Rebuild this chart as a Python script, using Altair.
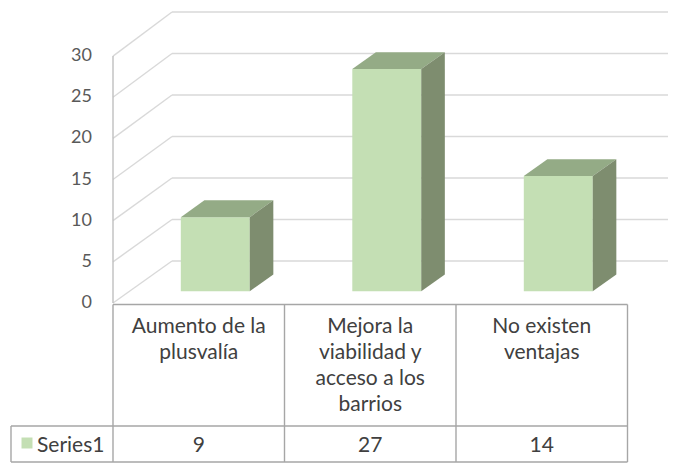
import altair as alt
import pandas as pd

# ---- data ----
categories = [["Aumento de la", "plusvalía"],
              ["Mejora la", "viabilidad y", "acceso a los", "barrios"],
              ["No existen", "ventajas"]]
values = [9, 27, 14]
series_name = "Series1"
y_ticks = [0, 5, 10, 15, 20, 25, 30]

# ---- geometry (in category / value units) ----
CAT_PX = 171.5              # pixels per category
XMAX = 555 / CAT_PX         # plot width expressed in category units
Y_DOMAIN = [-19.93, 35.84]  # value units covering the whole plot height
DEPTH_X = 0.344             # x shift of the back wall (category units)
DEPTH_Y = 5.10              # y shift of the back wall (value units)
BACK_SCALE = 1.0085         # slight perspective growth of the back wall
BAR_FRONT = 0.28            # depth fraction of bar front face
BAR_BACK = 0.68             # depth fraction of bar back face
HALF_W = 0.201              # half width of bar front face

FONT = "Lato"
TEXT_COLOR = "#404040"
GRID = "#D9D9D9"
BORDER = "#A6A6A6"
FRONT = "#C4DFB4"
TOP = "#94AB86"
SIDE = "#7E8D6F"

xs = alt.Scale(domain=[0, XMAX], nice=False, zero=False)
ys = alt.Scale(domain=Y_DOMAIN, nice=False, zero=False)

dxf, dvf = BAR_FRONT * DEPTH_X, BAR_FRONT * DEPTH_Y
dxb, dvb = BAR_BACK * DEPTH_X, BAR_BACK * DEPTH_Y

front_rows, top_rows, side_rows = [], [], []
for i, v in enumerate(values):
    c = i + 0.5
    front_rows.append(dict(bar=i, x=c - HALF_W + dxf, x2=c + HALF_W + dxf, y=dvf, y2=v + dvf))
    top_rows += [
        dict(bar=i, x=c - HALF_W + dxf, y=v + dvf, y2=v + dvf),
        dict(bar=i, x=c - HALF_W + dxb, y=v + dvb, y2=v + dvf),
        dict(bar=i, x=c + HALF_W + dxf, y=v + dvb, y2=v + dvf),
        dict(bar=i, x=c + HALF_W + dxb, y=v + dvb, y2=v + dvb),
    ]
    side_rows += [
        dict(bar=i, x=c + HALF_W + dxf, y=dvf, y2=v + dvf),
        dict(bar=i, x=c + HALF_W + dxb, y=dvb, y2=v + dvb),
    ]

front_df = pd.DataFrame(front_rows)
top_df = pd.DataFrame(top_rows)
side_df = pd.DataFrame(side_rows)

back_y = [t * BACK_SCALE + DEPTH_Y for t in y_ticks]
back_df = pd.DataFrame({"x": [DEPTH_X] * len(y_ticks), "x2": [XMAX] * len(y_ticks), "y": back_y})
diag_df = pd.DataFrame({"x": [0] * len(y_ticks), "x2": [DEPTH_X] * len(y_ticks),
                        "y": y_ticks, "y2": back_y})

back_lines = alt.Chart(back_df).mark_rule(color=GRID, strokeWidth=1.4).encode(
    x=alt.X("x:Q", scale=xs, axis=None), x2="x2:Q",
    y=alt.Y("y:Q", scale=ys, axis=None))
diag_lines = alt.Chart(diag_df).mark_rule(color=GRID, strokeWidth=1.4).encode(
    x=alt.X("x:Q", scale=xs, axis=None), x2="x2:Q",
    y=alt.Y("y:Q", scale=ys, axis=None), y2="y2:Q")

# vertical front axis line, from 0 to the top tick
axis_df = pd.DataFrame({"x": [0], "x2": [0], "y": [y_ticks[0]], "y2": [y_ticks[-1]]})
axis_line = alt.Chart(axis_df).mark_rule(color="#BFBFBF", strokeWidth=1.4).encode(
    x=alt.X("x:Q", scale=xs, axis=None), x2="x2:Q",
    y=alt.Y("y:Q", scale=ys, axis=None), y2="y2:Q")

tick_df = pd.DataFrame({"t": y_ticks})
tick_labels = alt.Chart(tick_df).mark_text(font=FONT, fontSize=18, color="#595959",
                                           align="right", baseline="middle").encode(
    x=alt.value(-21), y=alt.Y("t:Q", scale=ys, axis=None), text="t:Q")

front = alt.Chart(front_df).mark_rect(color=FRONT).encode(
    x=alt.X("x:Q", scale=xs, axis=None), x2="x2:Q",
    y=alt.Y("y:Q", scale=ys, axis=None), y2="y2:Q")
top = alt.Chart(top_df).mark_area(color=TOP, opacity=1).encode(
    x=alt.X("x:Q", scale=xs, axis=None),
    y=alt.Y("y:Q", scale=ys, axis=None), y2="y2:Q", detail="bar:N")
side = alt.Chart(side_df).mark_area(color=SIDE, opacity=1).encode(
    x=alt.X("x:Q", scale=xs, axis=None),
    y=alt.Y("y:Q", scale=ys, axis=None), y2="y2:Q", detail="bar:N")

# ---- data table below the plot ----
n = len(values)
TABLE_TOP = 296.5   # chart pixels
ROW_TOP = 418
ROW_BOT = 454
LEFT_EDGE = -102 / CAT_PX   # left border of the series cell, category units

bounds = list(range(n + 1))
vlines_df = pd.DataFrame({"x": bounds, "x2": bounds})
vlines = alt.Chart(vlines_df).mark_rule(color=BORDER, strokeWidth=1.4).encode(
    x=alt.X("x:Q", scale=xs, axis=None), x2="x2:Q",
    y=alt.value(TABLE_TOP), y2=alt.value(ROW_BOT))
hline_top = alt.Chart(pd.DataFrame({"x": [0], "x2": [n]})).mark_rule(color=BORDER, strokeWidth=1.6).encode(
    x=alt.X("x:Q", scale=xs, axis=None), x2="x2:Q", y=alt.value(TABLE_TOP))
hline_a = alt.Chart(pd.DataFrame({"x": [LEFT_EDGE], "x2": [n]})).mark_rule(color=BORDER, strokeWidth=1.4).encode(
    x=alt.X("x:Q", scale=xs, axis=None), x2="x2:Q", y=alt.value(ROW_TOP))
hline_b = alt.Chart(pd.DataFrame({"x": [LEFT_EDGE], "x2": [n]})).mark_rule(color=BORDER, strokeWidth=1.4).encode(
    x=alt.X("x:Q", scale=xs, axis=None), x2="x2:Q", y=alt.value(ROW_BOT))
left_border = alt.Chart(pd.DataFrame({"x": [LEFT_EDGE], "x2": [LEFT_EDGE]})).mark_rule(
    color=BORDER, strokeWidth=1.4).encode(
    x=alt.X("x:Q", scale=xs, axis=None), x2="x2:Q",
    y=alt.value(ROW_TOP), y2=alt.value(ROW_BOT))

TFS = 21
cat_df = pd.DataFrame({"x": [i + 0.5 for i in range(n)], "label": categories})
cat_text = alt.Chart(cat_df).mark_text(font=FONT, fontSize=TFS, color=TEXT_COLOR,
                                       baseline="alphabetic", align="center", lineHeight=26).encode(
    x=alt.X("x:Q", scale=xs, axis=None), y=alt.value(325), text="label")

val_df = pd.DataFrame({"x": [i + 0.5 for i in range(n)], "v": values})
val_text = alt.Chart(val_df).mark_text(font=FONT, fontSize=TFS, color=TEXT_COLOR,
                                       baseline="alphabetic", align="center").encode(
    x=alt.X("x:Q", scale=xs, axis=None), y=alt.value(444), text="v:Q")

series_df = pd.DataFrame({"name": [series_name]})
legend_sq = alt.Chart(series_df).mark_square(color=FRONT, size=121, opacity=1).encode(
    x=alt.value(-86), y=alt.value(435))
series_text = alt.Chart(series_df).mark_text(font=FONT, fontSize=TFS, color=TEXT_COLOR,
                                             baseline="alphabetic", align="left").encode(
    x=alt.value(-76), y=alt.value(444), text="name:N")

chart = alt.layer(
    back_lines, diag_lines, axis_line, tick_labels, front, top, side,
    vlines, hline_top, hline_a, hline_b, left_border,
    cat_text, val_text, legend_sq, series_text,
).properties(
    width=555, height=459,
    padding={"left": 105, "top": 0, "right": 0, "bottom": 0},
    autosize=alt.AutoSizeParams(type="none"),
    background="white",
).configure_view(stroke=None)

chart.save("out.html", embed_options={"renderer": "svg", "actions": False})
